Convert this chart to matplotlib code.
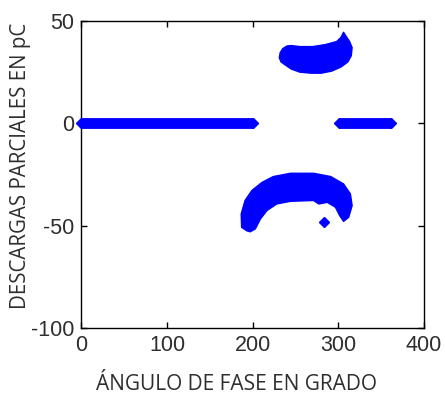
import matplotlib
matplotlib.use("Agg")
import matplotlib.pyplot as plt
from matplotlib.patches import Polygon

plt.rcParams["axes.unicode_minus"] = False

# Phase-resolved partial discharge pattern: charge (pC) vs. phase angle (degrees)

# Discharges sitting on the zero line: (start, end) phase of each band
zero_bands = [(0, 200), (301, 361)]

# Positive cluster outline (phase, charge)
pos_phase = [231, 232, 235, 240, 245, 255, 270, 285, 298, 303, 306, 309, 313, 316,
             315, 311, 303, 292, 280, 268, 255, 245, 238, 233]
pos_charge = [32, 34.5, 36.5, 37.8, 38, 37.5, 37.5, 38.5, 40, 42, 44.5, 42.5, 40, 37,
              33, 30, 27.5, 25.5, 24.5, 24.5, 25, 26.5, 28.5, 30]

# Negative crescent-shaped cluster outline (phase, charge)
neg_phase = [193, 187, 186.5, 191, 199, 211, 224, 244, 271, 291, 306, 314, 316,
             312, 306, 301.5, 296.5, 287, 277, 271, 244, 228, 216.6, 209, 203, 197]
neg_charge = [-52.5, -50.8, -44.3, -37.7, -32.8, -28.8, -26, -24.4, -24.4, -26,
              -29.6, -34.5, -40.2, -45.9, -47.9, -45.1, -41, -38.6, -39.4, -37.7,
              -38.1, -39.4, -42.6, -46.7, -51.6, -53]

# Isolated negative discharge
iso_phase = [283]
iso_charge = [-48]

x_ticks = [0, 100, 200, 300, 400]
y_ticks = [-100, -50, 0, 50]

blue = "#0000ff"
text_dark = "#2e2e2e"

fig = plt.figure(figsize=(4.45, 4.0), dpi=100)
ax = fig.add_axes([0.183, 0.18, 0.770, 0.7675])

# zero-line bands: thick line with diamond caps
for x0, x1 in zero_bands:
    ax.plot([x0, x1], [0, 0], color=blue, lw=7.8, solid_capstyle="butt",
            zorder=3, clip_on=False)
    ax.plot([x0, x1], [0, 0], linestyle="none", marker="D", ms=5.6,
            color=blue, mec=blue, zorder=3, clip_on=False)

for xs, ys in [(pos_phase, pos_charge), (neg_phase, neg_charge)]:
    poly = Polygon(list(zip(xs, ys)), closed=True, facecolor=blue,
                   edgecolor=blue, lw=1.0, joinstyle="round", zorder=3)
    ax.add_patch(poly)

ax.plot(iso_phase, iso_charge, linestyle="none", marker="D", ms=5.5,
        color=blue, zorder=3)

ax.set_xlim(0, 400)
ax.set_ylim(-100, 50)
ax.set_xticks(x_ticks)
ax.set_yticks(y_ticks)
ax.tick_params(direction="in", length=4, width=1, top=True, right=True,
               labelsize=15.5, colors="black", labelcolor=text_dark, pad=5)
for lab in ax.get_xticklabels() + ax.get_yticklabels():
    lab.set_family(["Liberation Sans", "DejaVu Sans"])
for sp in ax.spines.values():
    sp.set_linewidth(1.0)
    sp.set_color("black")

fig.text(0.532, 0.0375, "ÁNGULO DE FASE EN GRADO", ha="center", va="center",
         fontsize=15, color=text_dark, family=["Open Sans", "DejaVu Sans"])
fig.text(0.045, 0.585, "DESCARGAS PARCIALES EN pC", ha="center", va="center",
         rotation=90, fontsize=14.8, color=text_dark,
         family=["Open Sans", "DejaVu Sans"])

fig.savefig("out.png", dpi=100, facecolor="white")
